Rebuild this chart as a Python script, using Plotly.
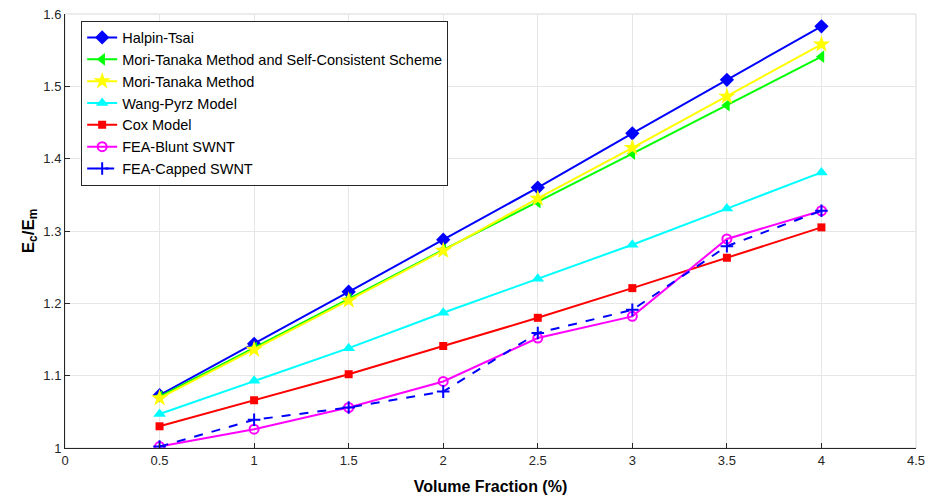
import plotly.graph_objects as go

# Volume fraction of SWNT (%)
volume_fraction = [0.5, 1, 1.5, 2, 2.5, 3, 3.5, 4]

# Normalised composite modulus Ec/Em for each model
halpin_tsai = [1.073, 1.144, 1.216, 1.288, 1.360, 1.435, 1.509, 1.583]
mori_tanaka_sc = [1.071, 1.138, 1.206, 1.274, 1.340, 1.407, 1.474, 1.541]
mori_tanaka = [1.069, 1.136, 1.204, 1.273, 1.345, 1.415, 1.486, 1.558]
wang_pyrz = [1.047, 1.093, 1.138, 1.187, 1.234, 1.281, 1.331, 1.381]
cox_model = [1.030, 1.066, 1.102, 1.141, 1.180, 1.221, 1.263, 1.305]
fea_blunt = [1.002, 1.026, 1.056, 1.092, 1.152, 1.182, 1.289, 1.328]
fea_capped = [1.002, 1.039, 1.056, 1.078, 1.159, 1.191, 1.279, 1.328]

x_ticks = [0, 0.5, 1, 1.5, 2, 2.5, 3, 3.5, 4, 4.5]
y_ticks = [1, 1.1, 1.2, 1.3, 1.4, 1.5, 1.6]

series = [
    ("Halpin-Tsai", halpin_tsai, "#0000FF", "diamond", 11, "solid"),
    ("Mori-Tanaka Method and Self-Consistent Scheme", mori_tanaka_sc, "#00FF00", "triangle-left", 11, "solid"),
    ("Mori-Tanaka Method", mori_tanaka, "#FFFF00", "star", 13, "solid"),
    ("Wang-Pyrz Model", wang_pyrz, "#00FFFF", "triangle-up", 11, "solid"),
    ("Cox Model", cox_model, "#FF0000", "square", 8, "solid"),
    ("FEA-Blunt SWNT", fea_blunt, "#FF00FF", "circle-open", 9, "solid"),
    ("FEA-Capped SWNT", fea_capped, "#0000FF", "cross-thin-open", 9, "dash"),
]

fig = go.Figure()
for name, values, color, symbol, size, dash in series:
    fig.add_trace(go.Scatter(
        x=volume_fraction, y=values, name=name, mode="lines+markers",
        line=dict(color=color, width=2, dash=dash),
        marker=dict(symbol=symbol, size=size, color=color,
                    line=dict(color=color, width=2 if "open" in symbol else 0)),
    ))

font_family = "Liberation Sans, Arial, sans-serif"

# Light frame on the top and right, MATLAB style
fig.add_shape(type="rect", xref="paper", yref="paper", x0=0, y0=0, x1=1, y1=1,
              line=dict(color="#d9d9d9", width=1), layer="below")

fig.update_layout(
    width=928, height=500,
    margin=dict(l=65, r=12, t=14, b=52),
    paper_bgcolor="white", plot_bgcolor="white",
    font=dict(family=font_family, size=13, color="#262626"),
    showlegend=True,
    legend=dict(
        x=0.019, y=0.985, xanchor="left", yanchor="top",
        bgcolor="white", bordercolor="#262626", borderwidth=1,
        font=dict(family=font_family, size=14.5, color="black"),
        tracegroupgap=0, itemwidth=30,
    ),
    xaxis=dict(
        range=[0, 4.5], tickvals=x_ticks, ticks="inside", ticklen=5,
        tickcolor="#262626", showline=True, linecolor="#262626", linewidth=1,
        showgrid=True, gridcolor="#e6e6e6", gridwidth=1, zeroline=False,
        automargin=False,
        tickfont=dict(size=13, color="#262626"),
        title=dict(text="<b>Volume Fraction (%)</b>", font=dict(size=16, color="black"), standoff=14),
    ),
    yaxis=dict(
        range=[1, 1.6], tickvals=y_ticks, ticks="inside", ticklen=5,
        tickcolor="#262626", showline=True, linecolor="#262626", linewidth=1,
        showgrid=True, gridcolor="#e6e6e6", gridwidth=1, zeroline=False,
        automargin=False,
        tickfont=dict(size=13, color="#262626"),
        title=dict(text="<b>E<sub>c</sub>/E<sub>m</sub></b>", font=dict(size=17, color="black"), standoff=4),
    ),
)

fig.write_html("out.html")
